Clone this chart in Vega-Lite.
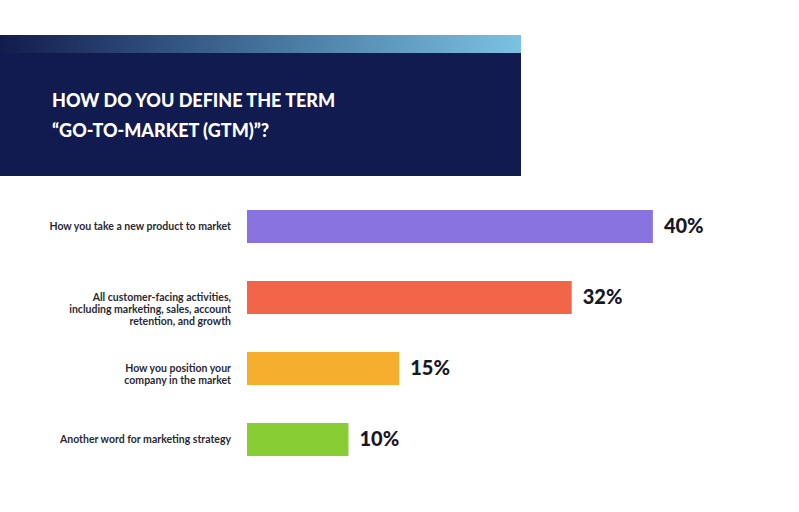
{
  "$schema": "https://vega.github.io/schema/vega-lite/v6.json",
  "padding": {"top": 35, "left": 0, "right": 0, "bottom": 0},
  "background": "white",
  "config": {"view": {"stroke": null}},
  "datasets": {
    "gtm": [
      {"answer": "How you take a new product to market", "share": 0.40},
      {"answer": "All customer-facing activities,\nincluding marketing, sales, account\nretention, and growth", "share": 0.32},
      {"answer": "How you position your\ncompany in the market", "share": 0.15},
      {"answer": "Another word for marketing strategy", "share": 0.10}
    ]
  },
  "spacing": 15,
  "vconcat": [
    {
      "spacing": 0,
      "vconcat": [
        {
          "width": 521,
          "height": 18,
          "data": {"values": [{"part": "strip"}]},
          "mark": {
            "type": "rect",
            "color": {
              "gradient": "linear",
              "x1": 0, "x2": 1, "y1": 0, "y2": 0,
              "stops": [
                {"offset": 0, "color": "#121b4d"},
                {"offset": 0.5, "color": "#43719b"},
                {"offset": 1, "color": "#7cc2e2"}
              ]
            }
          },
          "encoding": {
            "x": {"value": 0},
            "x2": {"value": "width"},
            "y": {"value": 0},
            "y2": {"value": "height"}
          }
        },
        {
          "width": 521,
          "height": 123,
          "view": {"fill": "#121b4f", "stroke": null},
          "title": {
            "text": ["HOW DO YOU DEFINE THE TERM", "“GO-TO-MARKET (GTM)”?"],
            "orient": "top",
            "anchor": "start",
            "frame": "group",
            "baseline": "top",
            "offset": -88,
            "dx": 52,
            "lineHeight": 30,
            "color": "white",
            "font": "Lato",
            "fontWeight": 900,
            "fontSize": 18
          },
          "data": {"values": [{"part": "body"}]},
          "mark": {"type": "rect", "color": "#121b4f"},
          "encoding": {
            "x": {"value": 0},
            "x2": {"value": "width"},
            "y": {"value": 0},
            "y2": {"value": "height"}
          }
        }
      ]
    },
    {
      "spacing": 16,
      "hconcat": [
        {
          "width": 231,
          "height": 284,
          "view": {"fill": "white", "stroke": null},
          "data": {"name": "gtm"},
          "mark": {
            "type": "text",
            "align": "right",
            "baseline": "middle",
            "lineBreak": "\n",
            "lineHeight": 12,
            "font": "Lato",
            "fontWeight": 700,
            "fontSize": 10.5,
            "color": "#2a2a33"
          },
          "encoding": {
            "y": {
              "field": "answer",
              "type": "nominal",
              "sort": null,
              "scale": {"paddingInner": 0.535, "paddingOuter": 0.2675},
              "axis": null
            },
            "x": {"value": "width"},
            "text": {"field": "answer", "type": "nominal"}
          }
        },
        {
          "width": 552,
          "height": 284,
          "view": {"fill": "white", "stroke": null},
          "data": {"name": "gtm"},
          "encoding": {
            "y": {
              "field": "answer",
              "type": "nominal",
              "sort": null,
              "scale": {"paddingInner": 0.535, "paddingOuter": 0.2675},
              "axis": null
            },
            "x": {
              "field": "share",
              "type": "quantitative",
              "scale": {"domain": [0, 0.544], "nice": false},
              "axis": null
            }
          },
          "layer": [
            {
              "mark": {"type": "bar"},
              "encoding": {
                "color": {
                  "field": "answer",
                  "type": "nominal",
                  "sort": null,
                  "legend": null,
                  "scale": {"range": ["#8973e1", "#f26549", "#f6ae2d", "#87cd33"]}
                }
              }
            },
            {
              "mark": {
                "type": "text",
                "align": "left",
                "baseline": "middle",
                "dx": 11,
                "font": "Lato",
                "fontWeight": 900,
                "fontSize": 20,
                "color": "#181826"
              },
              "encoding": {
                "text": {"field": "share", "type": "quantitative", "format": ".0%"}
              }
            }
          ]
        }
      ]
    }
  ]
}
